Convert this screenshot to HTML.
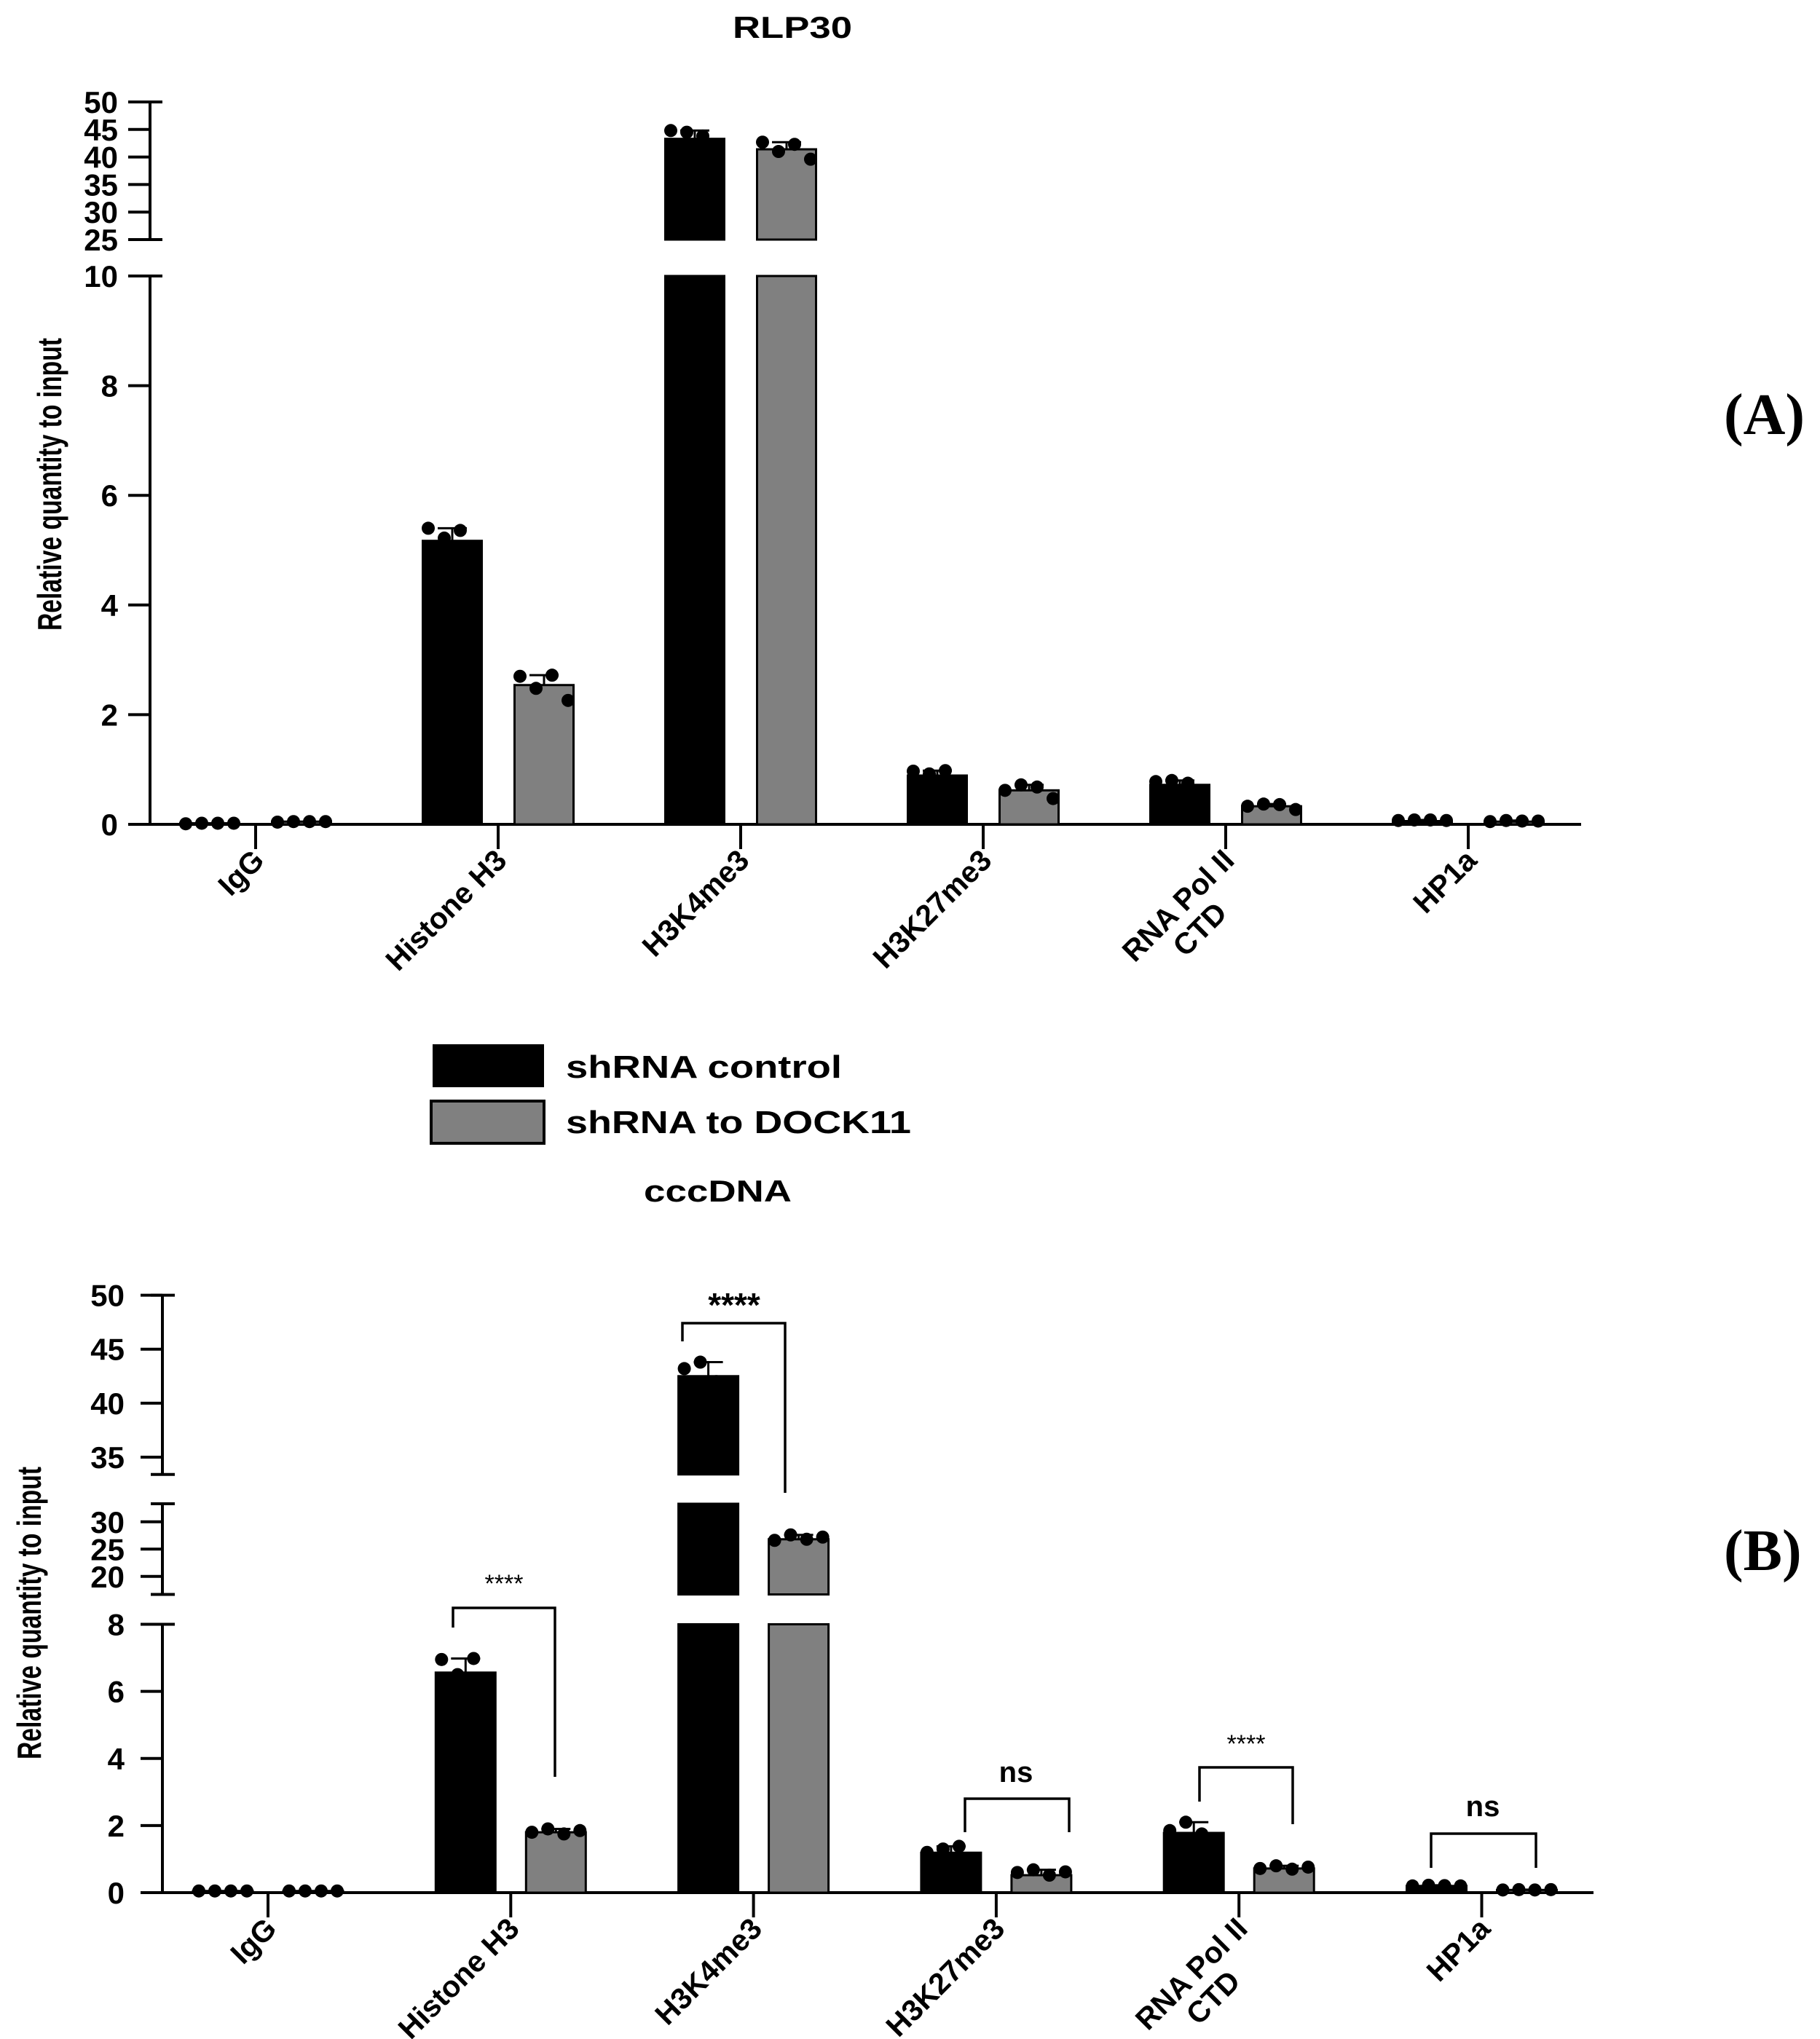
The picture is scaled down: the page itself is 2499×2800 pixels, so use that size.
<!DOCTYPE html>
<html><head><meta charset="utf-8"><style>
html,body{margin:0;padding:0;background:#fff;}
svg{display:block;font-family:"Liberation Sans",Arial,sans-serif;}
</style></head><body>
<svg id="fig" width="2499" height="2800" viewBox="0 0 2499 2800" xmlns="http://www.w3.org/2000/svg">
<g id="chartA"></g>
<g id="chartB"></g>
<text x="1006" y="52" font-size="42" font-weight="bold" textLength="164" lengthAdjust="spacingAndGlyphs">RLP30</text>
<text x="884" y="1650" font-size="42" font-weight="bold" textLength="203" lengthAdjust="spacingAndGlyphs">cccDNA</text>
<text x="2367" y="596" font-size="80" font-weight="bold" font-family="Liberation Serif, serif">(A)</text>
<text x="2367" y="2156" font-size="80" font-weight="bold" font-family="Liberation Serif, serif">(B)</text>
<g>
<rect x="594" y="1434" width="153" height="59" fill="#000"/>
<text x="777" y="1480" font-size="44" font-weight="bold" textLength="379" lengthAdjust="spacingAndGlyphs">shRNA control</text>
<rect x="592" y="1512" width="155" height="58" fill="#808080" stroke="#000" stroke-width="4"/>
<text x="777" y="1556" font-size="44" font-weight="bold" textLength="474" lengthAdjust="spacingAndGlyphs">shRNA to DOCK11</text>
</g>
</svg>
<script>
const NS="http://www.w3.org/2000/svg";
const categories=["IgG","Histone H3","H3K4me3","H3K27me3","RNA Pol II|CTD","HP1a"];
// Panel A values
const aControl=[0.02,5.17,43.3,0.89,0.72,0.06];
const aDock=[0.05,2.54,41.4,0.62,0.33,0.05];
const aControlPts=[[0.01,0.02,0.02,0.02],[5.4,5.22,5.36,4.7],[44.8,44.5,43.8,40.1],[0.97,0.92,0.98,0.69],[0.78,0.8,0.75,0.55],[0.07,0.08,0.08,0.07]];
const aDockPts=[[0.04,0.05,0.05,0.05],[2.7,2.48,2.72,2.26],[42.7,41.0,42.3,39.6],[0.62,0.72,0.68,0.47],[0.33,0.37,0.36,0.27],[0.05,0.07,0.06,0.06]];
const aTicks=[0,2,4,6,8,10,25,30,35,40,45,50];
// Panel B values
const bControl=[0.05,6.56,42.5,1.19,1.78,0.2];
const bDock=[0.05,1.8,26.8,0.52,0.72,0.08];
const bControlPts=[[0.05,0.05,0.05,0.05],[6.95,6.5,6.98,5.8],[43.2,43.8,42.0,41.2],[1.2,1.3,1.38,0.9],[1.85,2.1,1.75,1.4],[0.2,0.22,0.21,0.2]];
const bDockPts=[[0.05,0.05,0.05,0.05],[1.8,1.9,1.75,1.85],[26.6,27.6,26.8,27.2],[0.6,0.68,0.52,0.62],[0.72,0.8,0.7,0.76],[0.08,0.09,0.08,0.09]];
const bTicks=[0,2,4,6,8,20,25,30,35,40,45,50];

function mk(tag,attrs,parent){const e=document.createElementNS(NS,tag);for(const k in attrs)e.setAttribute(k,attrs[k]);parent.appendChild(e);return e;}

function drawChart(g,cfg,ctl,dock,ctlPts,dockPts,ticks,prefix){
  const segs=cfg.segs;
  function segOf(v){for(const s of segs){if(v<=s.d1+1e-9)return s;}return segs[segs.length-1];}
  function y(v){let s=segOf(v);if(v<s.d0)v=s.d0;return s.p0+(v-s.d0)*(s.p1-s.p0)/(s.d1-s.d0);}
  function x(i){return cfg.x0+cfg.step*i;}
  const ax=cfg.axisX;
  segs.forEach((s,k)=>{
    const l=mk('line',{x1:ax,x2:ax,y1:s.p0+(k===0?2:0),y2:s.p1,stroke:'#000','stroke-width':4},g);
    
    
    [s.p0,s.p1].forEach((p,j)=>{
      if(k===0&&j===0)return;
      const t=mk('line',{x1:ax-16,x2:ax+17,y1:p,y2:p,stroke:'#000','stroke-width':4},g);
      
      
    });
  });
  ticks.forEach(v=>{
    const yy=y(v);
    const t=mk('line',{x1:ax-30,x2:ax,y1:yy,y2:yy,stroke:'#000','stroke-width':4},g);
    
    
    const lb=mk('text',{x:cfg.labelX,y:yy+15,'font-size':42,'font-weight':'bold','text-anchor':'end'},g);
    lb.textContent=String(v);
    
    
  });
  const y0=y(0);
  const xa=mk('line',{x1:ax-30,x2:cfg.axisEnd,y1:y0,y2:y0,stroke:'#000','stroke-width':4},g);
  
  
  const yt=mk('text',{transform:`translate(${cfg.titleX},${cfg.titleY}) rotate(-90)`,'font-size':46,'font-weight':'bold','text-anchor':'middle',textLength:402,lengthAdjust:'spacingAndGlyphs'},g);
  yt.textContent='Relative quantity to input';
  
  
  categories.forEach((c,i)=>{
    const cx=x(i);
    const tk=mk('line',{x1:cx,x2:cx,y1:y0,y2:y0+34,stroke:'#000','stroke-width':4},g);
    
    
    const parts=c.split('|');
    const tg=mk('g',{transform:`translate(${cx+14},${y0+52}) rotate(-45)`},g);
    
    
    const t1=mk('text',{x:0,y:0,'font-size':41,'font-weight':'bold','text-anchor':'end'},tg);
    t1.textContent=parts[0];
    if(parts[1]){const t2=mk('text',{x:-58,y:44,'font-size':41,'font-weight':'bold','text-anchor':'end'},tg);t2.textContent=parts[1];}
    [[ctl[i],ctlPts[i],'#000',-cfg.off,'control'],[dock[i],dockPts[i],'#808080',cfg.off,'dock11']].forEach(([v,pts,fill,off,nm])=>{
      const bx=cx+off-cfg.bw/2;
      segs.forEach(s=>{
        if(v<=s.d0)return;
        const top=y(Math.min(v,s.d1)),bot=y(s.d0);
        const r=mk('rect',{x:bx,y:top,width:cfg.bw,height:Math.max(bot-top,1),fill:fill,stroke:'#000','stroke-width':3},g);
        
        
      });
      const mx=Math.max(...pts);
      if(mx>v){
        const eb=mk('path',{d:`M${cx+off},${y(v)}V${y(mx)}M${cx+off-20},${y(mx)}H${cx+off+20}`,stroke:'#000','stroke-width':3,fill:'none'},g);
        
        
      }
      pts.forEach((p,j)=>{
        const d=mk('circle',{cx:cx+off-33+22*j,cy:y(p),r:9,fill:'#000'},g);
        
        
      });
    });
  });
}

drawChart(document.getElementById('chartA'),{
  segs:[{d0:0,d1:10,p0:1132,p1:379},{d0:25,d1:50,p0:329,p1:140}],
  axisX:206,labelX:162,axisEnd:2171,x0:351,step:333,off:63,bw:81,titleX:84,titleY:665
},aControl,aDock,aControlPts,aDockPts,aTicks,'a');

drawChart(document.getElementById('chartB'),{
  segs:[{d0:0,d1:8,p0:2599,p1:2230.5},{d0:16.7,d1:33.3,p0:2189.5,p1:2065},{d0:33.4,d1:50,p0:2024.7,p1:1778.6}],
  axisX:223,labelX:171,axisEnd:2188,x0:368,step:333.3,off:62,bw:82,titleX:56,titleY:2215
},bControl,bDock,bControlPts,bDockPts,bTicks,'b');

const brackets=[
  {x1:622,x2:762,top:2208,l:2235,r:2440,label:'****',lx:692,ly:2186,fs:34,fw:'normal'},
  {x1:937,x2:1078,top:1817,l:1842,r:2050,label:'****',lx:1008,ly:1808,fs:46,fw:'bold'},
  {x1:1325,x2:1468,top:2470,l:2516,r:2516,label:'ns',lx:1395,ly:2447,fs:40,fw:'bold'},
  {x1:1647,x2:1775,top:2427,l:2474,r:2505,label:'****',lx:1711,ly:2406,fs:34,fw:'normal'},
  {x1:1965,x2:2109,top:2518,l:2565,r:2565,label:'ns',lx:2036,ly:2494,fs:40,fw:'bold'}
];
const gB=document.getElementById('chartB');
brackets.forEach(b=>{
  const p=mk('path',{d:`M${b.x1},${b.l}V${b.top}H${b.x2}V${b.r}`,stroke:'#000','stroke-width':3.5,fill:'none'},gB);
  
  
  const t=mk('text',{x:b.lx,y:b.ly,'font-size':b.fs,'font-weight':b.fw,'text-anchor':'middle'},gB);
  t.textContent=b.label;
  
  
});
</script>
</body></html>
